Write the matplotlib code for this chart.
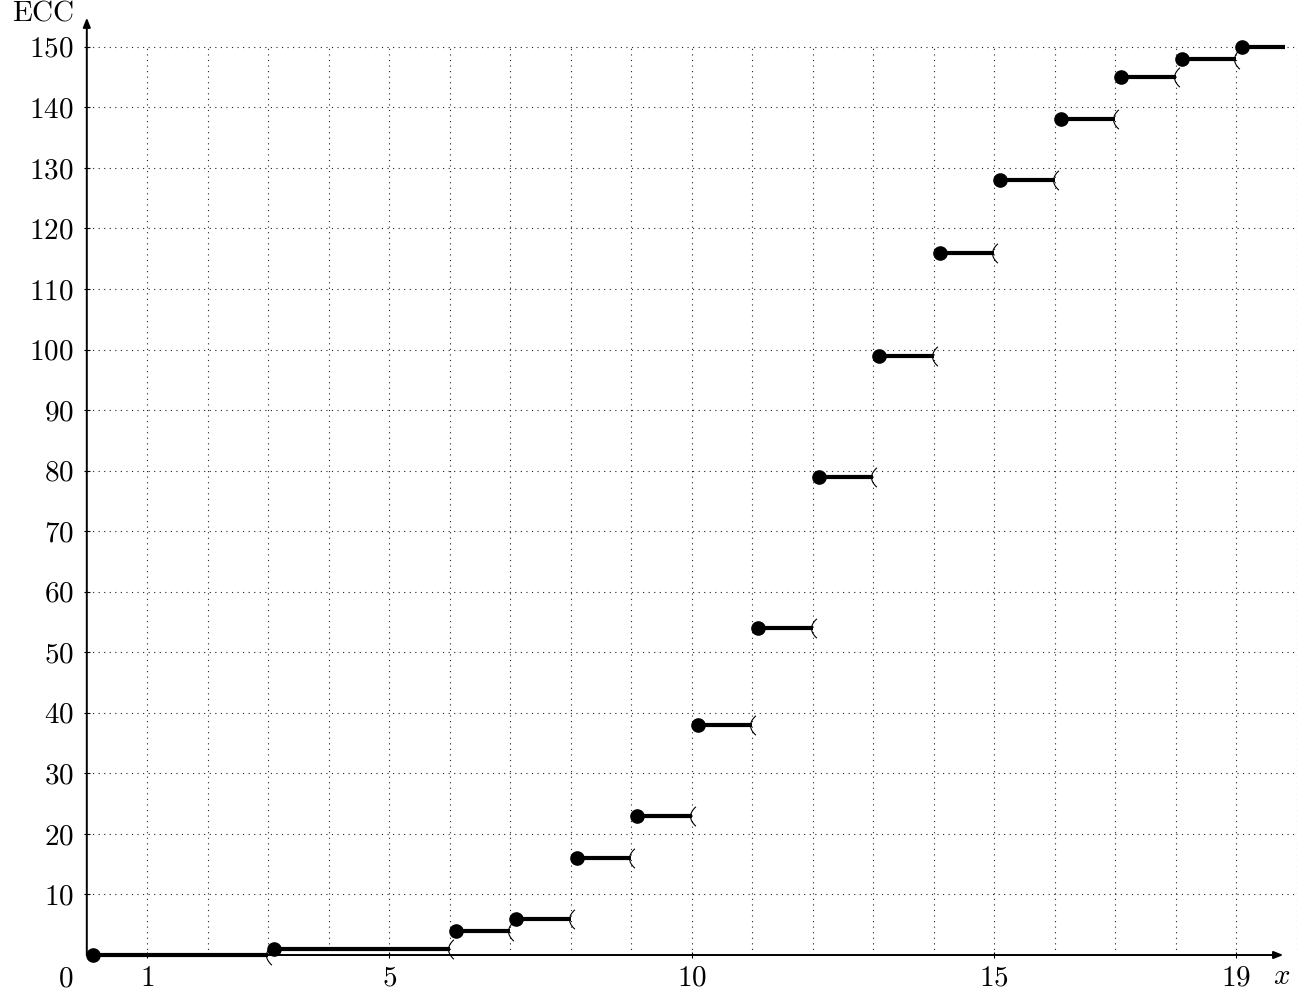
import matplotlib
matplotlib.use("Agg")
import matplotlib.pyplot as plt
from matplotlib.path import Path
import numpy as np

plt.rcParams['mathtext.fontset'] = 'cm'
plt.rcParams['font.family'] = 'serif'
plt.rcParams['font.serif'] = ['cmr10', 'DejaVu Serif']
plt.rcParams['axes.formatter.use_mathtext'] = True

# step function data: value on [start, end)
starts = [0, 3, 6, 7, 8, 9, 10, 11, 12, 13, 14, 15, 16, 17, 18, 19]
ends = [3, 6, 7, 8, 9, 10, 11, 12, 13, 14, 15, 16, 17, 18, 19, 19.8]
values = [0, 1, 4, 6, 16, 23, 38, 54, 79, 99, 116, 128, 138, 145, 148, 150]
open_end = [True] * 15 + [False]

xtick_vals = [1, 5, 10, 15, 19]
ytick_vals = list(range(10, 151, 10))

W, H = 1306, 992
fig = plt.figure(figsize=(W / 100, H / 100), dpi=100)
x0px, xunit = 86.8, 60.49
y0px, yunit = 955.0, 6.055
xmax, ymax = 20, 155
ax = fig.add_axes([x0px / W, (H - y0px) / H, xmax * xunit / W, ymax * yunit / H])
ax.set_xlim(0, xmax)
ax.set_ylim(0, ymax)
for s in ax.spines.values():
    s.set_visible(False)

FS = 21

# grid
ax.hlines(ytick_vals, 0, 20, colors='#222222', linestyles=(0, (1, 4)), linewidth=0.8, zorder=1)
ax.vlines(range(1, 21), 0, 150, colors='#222222', linestyles=(0, (1, 4)), linewidth=0.8, zorder=1)

# axes arrows
ax.annotate('', xy=(19.78, 0), xytext=(0, 0),
            arrowprops=dict(arrowstyle='-|>,head_length=0.55,head_width=0.22', lw=1.4, color='black',
                            shrinkA=0, shrinkB=0), annotation_clip=False, zorder=3)
ax.annotate('', xy=(0, 154.8), xytext=(0, 0),
            arrowprops=dict(arrowstyle='-|>,head_length=0.55,head_width=0.22', lw=1.4, color='black',
                            shrinkA=0, shrinkB=0), annotation_clip=False, zorder=3)

# ticks
ax.set_xticks(xtick_vals)
ax.set_xticklabels([r'$%d$' % v for v in xtick_vals])
ax.set_yticks(ytick_vals)
ax.set_yticklabels([r'$%d$' % v for v in ytick_vals])
ax.tick_params(axis='both', direction='inout', length=5, width=0.8, labelsize=FS)
ax.tick_params(axis='x', pad=5)
ax.tick_params(axis='y', pad=7)
ax.text(-0.35, -1.8, r'$0$', fontsize=FS, ha='center', va='top')
ax.text(-0.2, 155.5, r'$\mathrm{ECC}$', fontsize=FS, ha='right', va='center')
ax.text(19.75, -1.5, r'$x$', fontsize=FS, ha='center', va='top')

# open-end marker: parenthesis-like arc
t = np.linspace(-1, 1, 15)
verts = [(0.35 - 0.55 * (1 - tt ** 2), tt) for tt in t]
paren = Path(verts)

off = 0.1
for s, e, v, o in zip(starts, ends, values, open_end):
    ax.plot([s + off, e], [v, v], color='black', lw=3.0, solid_capstyle='butt', zorder=4, clip_on=False)
    ax.plot([s + off], [v], 'o', color='black', ms=9.5, zorder=5, clip_on=False)
    if o:
        ax.plot([e], [v], marker=paren, ms=14, mfc='none', mec='black', mew=0.8, zorder=5, clip_on=False)

fig.savefig('out.png', dpi=100)
